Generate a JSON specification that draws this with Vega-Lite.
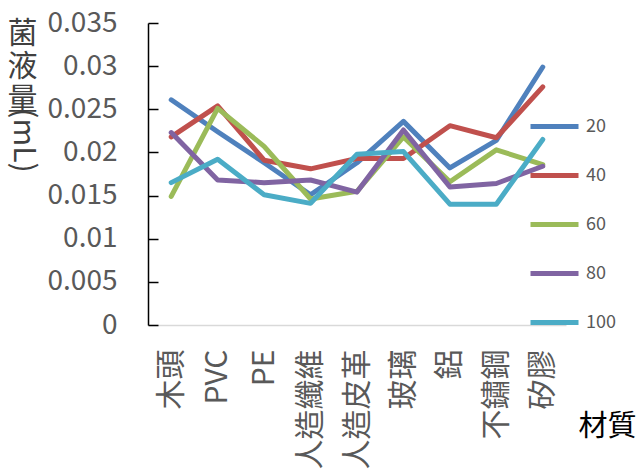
{
  "$schema": "https://vega.github.io/schema/vega-lite/v6.json",
  "width": 418,
  "height": 302,
  "autosize": {"type": "none"},
  "padding": {"left": 148, "top": 23, "right": 72, "bottom": 149},
  "background": "white",
  "config": {
    "view": {"stroke": null},
    "font": "Noto Sans CJK TC"
  },
  "data": {
    "values": [
      {"材質": "木頭", "series": "20", "value": 0.0261},
      {"材質": "PVC", "series": "20", "value": 0.0224},
      {"材質": "PE", "series": "20", "value": 0.0188},
      {"材質": "人造纖維", "series": "20", "value": 0.0151},
      {"材質": "人造皮革", "series": "20", "value": 0.0188},
      {"材質": "玻璃", "series": "20", "value": 0.0236},
      {"材質": "鋁", "series": "20", "value": 0.0182},
      {"材質": "不鏽鋼", "series": "20", "value": 0.0214},
      {"材質": "矽膠", "series": "20", "value": 0.0299},
      {"材質": "木頭", "series": "40", "value": 0.0218},
      {"材質": "PVC", "series": "40", "value": 0.0254},
      {"材質": "PE", "series": "40", "value": 0.0191},
      {"材質": "人造纖維", "series": "40", "value": 0.0181},
      {"材質": "人造皮革", "series": "40", "value": 0.0193},
      {"材質": "玻璃", "series": "40", "value": 0.0193},
      {"材質": "鋁", "series": "40", "value": 0.0231},
      {"材質": "不鏽鋼", "series": "40", "value": 0.0217},
      {"材質": "矽膠", "series": "40", "value": 0.0276},
      {"材質": "木頭", "series": "60", "value": 0.0149},
      {"材質": "PVC", "series": "60", "value": 0.0251},
      {"材質": "PE", "series": "60", "value": 0.0207},
      {"材質": "人造纖維", "series": "60", "value": 0.0146},
      {"材質": "人造皮革", "series": "60", "value": 0.0155},
      {"材質": "玻璃", "series": "60", "value": 0.0218},
      {"材質": "鋁", "series": "60", "value": 0.0166},
      {"材質": "不鏽鋼", "series": "60", "value": 0.0203},
      {"材質": "矽膠", "series": "60", "value": 0.0186},
      {"材質": "木頭", "series": "80", "value": 0.0223},
      {"材質": "PVC", "series": "80", "value": 0.0168},
      {"材質": "PE", "series": "80", "value": 0.0165},
      {"材質": "人造纖維", "series": "80", "value": 0.0168},
      {"材質": "人造皮革", "series": "80", "value": 0.0154},
      {"材質": "玻璃", "series": "80", "value": 0.0226},
      {"材質": "鋁", "series": "80", "value": 0.0160},
      {"材質": "不鏽鋼", "series": "80", "value": 0.0164},
      {"材質": "矽膠", "series": "80", "value": 0.0184},
      {"材質": "木頭", "series": "100", "value": 0.0165},
      {"材質": "PVC", "series": "100", "value": 0.0192},
      {"材質": "PE", "series": "100", "value": 0.0151},
      {"材質": "人造纖維", "series": "100", "value": 0.0141},
      {"材質": "人造皮革", "series": "100", "value": 0.0198},
      {"材質": "玻璃", "series": "100", "value": 0.0201},
      {"材質": "鋁", "series": "100", "value": 0.0140},
      {"材質": "不鏽鋼", "series": "100", "value": 0.0140},
      {"材質": "矽膠", "series": "100", "value": 0.0215}
    ]
  },
  "encoding": {
    "x": {
      "field": "材質",
      "type": "nominal",
      "sort": ["木頭", "PVC", "PE", "人造纖維", "人造皮革", "玻璃", "鋁", "不鏽鋼", "矽膠"],
      "scale": {"padding": 0.5},
      "axis": {
        "title": "材質",
        "titleFontSize": 29,
        "titleFontWeight": "normal",
        "titleColor": "#000000",
        "titleAngle": 0,
        "titleAlign": "center",
        "titleBaseline": "middle",
        "titleX": 459,
        "titleY": 101,
        "labelAngle": 270,
        "labelAlign": "right",
        "labelBaseline": "middle",
        "labelFontSize": 30,
        "labelColor": "#595959",
        "labelPadding": 24,
        "ticks": false,
        "tickSize": 0,
        "domainColor": "#d9d9d9",
        "domainWidth": 1.5,
        "grid": false
      }
    }
  },
  "layer": [
    {
      "mark": {"type": "line", "strokeWidth": 5, "strokeCap": "round", "strokeJoin": "round"},
      "encoding": {
        "y": {
          "field": "value",
          "type": "quantitative",
          "scale": {"domain": [0, 0.035], "nice": false},
          "axis": {
            "values": [0, 0.005, 0.01, 0.015, 0.02, 0.025, 0.03, 0.035],
            "format": "~g",
            "labelFontSize": 28,
            "labelColor": "#595959",
            "labelPadding": 41,
            "tickSize": -10,
            "tickColor": "#000000",
            "tickWidth": 1.5,
            "domainColor": "#000000",
            "domainWidth": 1.5,
            "grid": false,
            "title": ["菌", "液", "量"],
            "titleFontSize": 30,
            "titleFontWeight": "normal",
            "titleColor": "#404040",
            "titleAngle": 0,
            "titleAlign": "center",
            "titleBaseline": "top",
            "titleLineHeight": 33,
            "titleX": -126,
            "titleY": -5
          }
        },
        "color": {
          "field": "series",
          "type": "nominal",
          "sort": ["20", "40", "60", "80", "100"],
          "scale": {
            "domain": ["20", "40", "60", "80", "100"],
            "range": ["#4F81BD", "#C0504D", "#9BBB59", "#8064A2", "#4BACC6"]
          },
          "legend": {
            "title": null,
            "orient": "none",
            "legendX": 380,
            "legendY": 77,
            "symbolType": "stroke",
            "symbolSize": 2304,
            "symbolStrokeWidth": 5,
            "rowPadding": 12,
            "labelFontSize": 18,
            "labelColor": "#595959",
            "labelOffset": 5
          }
        }
      }
    },
    {
      "mark": {"type": "point", "opacity": 0},
      "encoding": {
        "y": {
          "field": "value",
          "type": "quantitative",
          "scale": {"domain": [0, 0.035], "nice": false},
          "axis": {
            "orient": "left",
            "domain": false,
            "ticks": false,
            "labels": false,
            "grid": false,
            "title": "(mL)",
            "titleFontSize": 30,
            "titleFontWeight": "normal",
            "titleColor": "#404040",
            "titleAngle": 90,
            "titleAlign": "center",
            "titleBaseline": "middle",
            "titleX": -126,
            "titleY": 117
          }
        }
      }
    }
  ],
  "resolve": {"axis": {"y": "independent"}}
}
